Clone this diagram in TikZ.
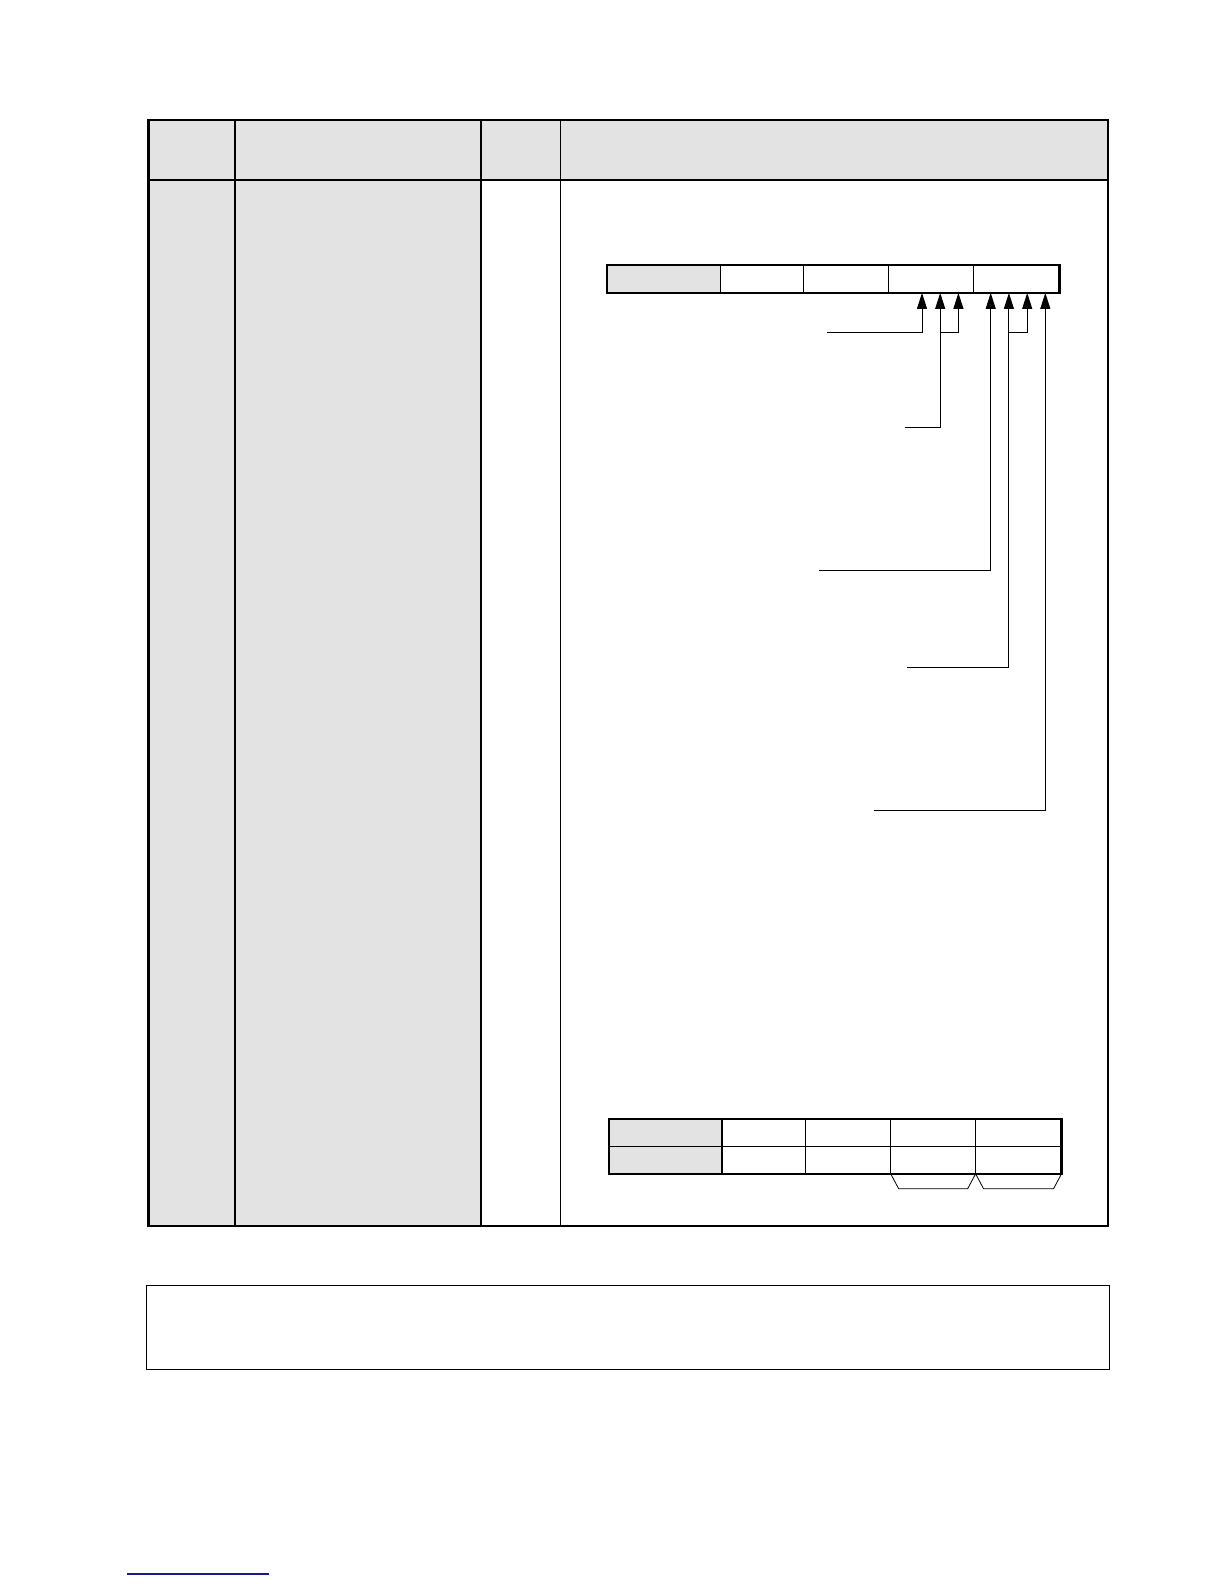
\documentclass[tikz,border=0pt]{standalone}
\usetikzlibrary{arrows.meta}
\definecolor{cellgray}{RGB}{227,227,227}
\definecolor{linkblue}{RGB}{24,24,150}
\begin{document}
\begin{tikzpicture}[
        x=0.5pt, y=-0.5pt,
        frame/.style={draw, line width=1.1pt},
        rule/.style={draw, line width=0.5pt},
        regcell/.style={rectangle, draw, line width=0.5pt, minimum height=14.15pt, inner sep=0pt, outer sep=0pt, anchor=north west},
        tabcell/.style={rectangle, draw, line width=0.5pt, minimum height=13.7pt, inner sep=0pt, outer sep=0pt, anchor=north west},
        ptr/.style={-{Triangle[length=8pt,width=5pt]}, line width=0.5pt},
        brace/.style={draw, line width=0.4pt}
    ]
        \useasboundingbox (0,0) rectangle (1224,1584);

        % Table: header row and shaded body columns
        \fill[cellgray] (148.5,120.2) rectangle (1107.8,179.8);
        \fill[cellgray] (148.5,179.8) rectangle (480.7,1226);
        \draw[frame] (148.5,120.2) rectangle (1107.8,1226);
        \draw[frame] (148.5,179.8) -- (1107.8,179.8);
        \draw[frame] (235.3,120.2) -- (235.3,1226);
        \draw[frame] (480.7,120.2) -- (480.7,1226);
        \draw[rule] (560.5,120.2) -- (560.5,1226);

        % Register layout
        \node[regcell, fill=cellgray, minimum width=56.5pt] (r1) at (607,264.6) {};
        \node[regcell, minimum width=41.95pt] (r2) at (r1.north east) {};
        \node[regcell, minimum width=42.4pt] (r3) at (r2.north east) {};
        \node[regcell, minimum width=42.4pt] (r4) at (r3.north east) {};
        \node[regcell, minimum width=42.95pt] (r5) at (r4.north east) {};
        \draw[frame] (r1.north west) rectangle (r5.south east);

        % Bit positions pointed at
        \coordinate (t1) at (922,292.9);
        \coordinate (t2) at (940.2,292.9);
        \coordinate (t3) at (958.4,292.9);
        \coordinate (t4) at (990.7,292.9);
        \coordinate (t5) at (1008.9,292.9);
        \coordinate (t6) at (1027.2,292.9);
        \coordinate (t7) at (1045.3,292.9);

        % Free ends of the pointers
        \coordinate (p1) at (827.1,332.3);
        \coordinate (p2) at (904.9,427.2);
        \coordinate (j1) at (940.2,332.3);
        \coordinate (p4) at (819,570.6);
        \coordinate (p5) at (906.9,667.5);
        \coordinate (j2) at (1008.9,332.3);
        \coordinate (p7) at (873.6,810);

        \draw[ptr] (p1) -| (t1);
        \draw[ptr] (p2) -| (t2);
        \draw[ptr] (j1) -| (t3);
        \draw[ptr] (p4) -| (t4);
        \draw[ptr] (p5) -| (t5);
        \draw[ptr] (j2) -| (t6);
        \draw[ptr] (p7) -| (t7);

        % Lower table, two rows
        \node[tabcell, fill=cellgray, minimum width=56.5pt] (u1) at (609,1119) {};
        \node[tabcell, minimum width=41.95pt] (u2) at (u1.north east) {};
        \node[tabcell, minimum width=42.4pt] (u3) at (u2.north east) {};
        \node[tabcell, minimum width=42.45pt] (u4) at (u3.north east) {};
        \node[tabcell, minimum width=42.95pt] (u5) at (u4.north east) {};
        \node[tabcell, fill=cellgray, minimum width=56.5pt] (v1) at (u1.south west) {};
        \node[tabcell, minimum width=41.95pt] (v2) at (v1.north east) {};
        \node[tabcell, minimum width=42.4pt] (v3) at (v2.north east) {};
        \node[tabcell, minimum width=42.45pt] (v4) at (v3.north east) {};
        \node[tabcell, minimum width=42.95pt] (v5) at (v4.north east) {};
        \draw[frame] (u1.north west) rectangle (v5.south east);
        \draw[frame] (u1.north east) -- (v1.south east);

        % Braces under the last two fields
        \draw[brace] (v4.south west) -- ++(8,15) -- ++(68.9,0) -- (v4.south east);
        \draw[brace] (v5.south west) -- ++(8,15) -- ++(69.9,0) -- (v5.south east);

        % Note box
        \draw[rule] (146.4,1285.6) rectangle (1109.8,1369.4);

        % Link underline
        \draw[linkblue, line width=0.9pt] (127,1574) -- (269,1574);
    \end{tikzpicture}
\end{document}
